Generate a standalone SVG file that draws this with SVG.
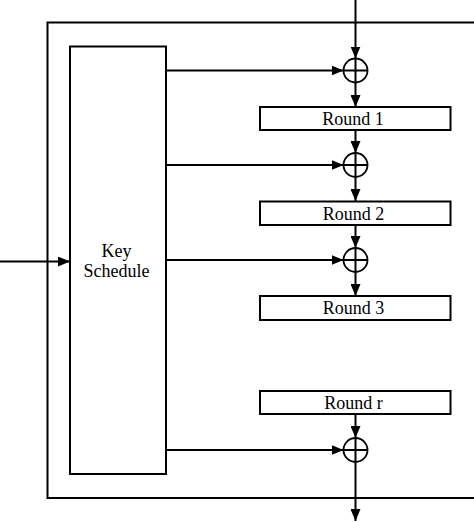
<svg xmlns="http://www.w3.org/2000/svg" width="474" height="522" viewBox="0 0 474 522">
<defs>
<marker id="ah" viewBox="0 0 12 10" refX="12" refY="5" markerWidth="12" markerHeight="10" markerUnits="userSpaceOnUse" orient="auto">
<path d="M0,0 L12,5 L0,10 Z" fill="#000"/>
</marker>
</defs>
<style>
.box{fill:#fff;stroke:#000;stroke-width:2}
.ln{fill:none;stroke:#000;stroke-width:2}
.arr{fill:none;stroke:#000;stroke-width:2;marker-end:url(#ah)}
.xor{fill:#fff;stroke:#000;stroke-width:1.8}
.t{font-family:"Liberation Serif","Times New Roman",serif;font-size:18px;fill:#000;text-anchor:middle}
</style>
<rect id="outer" x="47.5" y="22.5" width="440" height="475.5" class="ln"/>
<g id="connectors">
<line x1="355.5" y1="0" x2="355.5" y2="58.5" class="arr"/>
<line x1="355.5" y1="83" x2="355.5" y2="107" class="arr"/>
<line x1="355.5" y1="130" x2="355.5" y2="153" class="arr"/>
<line x1="355.5" y1="177" x2="355.5" y2="201" class="arr"/>
<line x1="355.5" y1="225" x2="355.5" y2="248" class="arr"/>
<line x1="355.5" y1="272" x2="355.5" y2="296" class="arr"/>
<line x1="355.5" y1="414" x2="355.5" y2="438" class="arr"/>
<line x1="355.5" y1="462" x2="355.5" y2="521" class="arr"/>
<line x1="166" y1="70.5" x2="343.5" y2="70.5" class="arr"/>
<line x1="166" y1="165" x2="343.5" y2="165" class="arr"/>
<line x1="166" y1="260" x2="343.5" y2="260" class="arr"/>
<line x1="166" y1="450" x2="343.5" y2="450" class="arr"/>
<line x1="0" y1="261.5" x2="70" y2="261.5" class="arr"/>
</g>
<g id="keyschedule">
<rect x="70" y="46.5" width="96" height="427.5" class="box"/>
<text x="116.5" y="256.5" class="t">Key</text>
<text x="116.5" y="276.5" class="t">Schedule</text>
</g>
<g id="xor1"><circle cx="355.5" cy="70.5" r="12" class="xor"/><path d="M343.5,70.5 H367.5 M355.5,58.5 V82.5" class="ln"/></g>
<g id="xor2"><circle cx="355.5" cy="165" r="12" class="xor"/><path d="M343.5,165 H367.5 M355.5,153 V177" class="ln"/></g>
<g id="xor3"><circle cx="355.5" cy="260" r="12" class="xor"/><path d="M343.5,260 H367.5 M355.5,248 V272" class="ln"/></g>
<g id="xor4"><circle cx="355.5" cy="450" r="12" class="xor"/><path d="M343.5,450 H367.5 M355.5,438 V462" class="ln"/></g>
<g id="round1"><rect x="260" y="107" width="190.5" height="23" class="box"/><text x="353" y="125" class="t">Round 1</text></g>
<g id="round2"><rect x="260" y="201.5" width="190.5" height="23.5" class="box"/><text x="353.5" y="219.5" class="t">Round 2</text></g>
<g id="round3"><rect x="260" y="296" width="190.5" height="24" class="box"/><text x="353.5" y="314" class="t">Round 3</text></g>
<g id="roundr"><rect x="260" y="391" width="190.5" height="23" class="box"/><text x="353.5" y="409" class="t">Round r</text></g>
</svg>
